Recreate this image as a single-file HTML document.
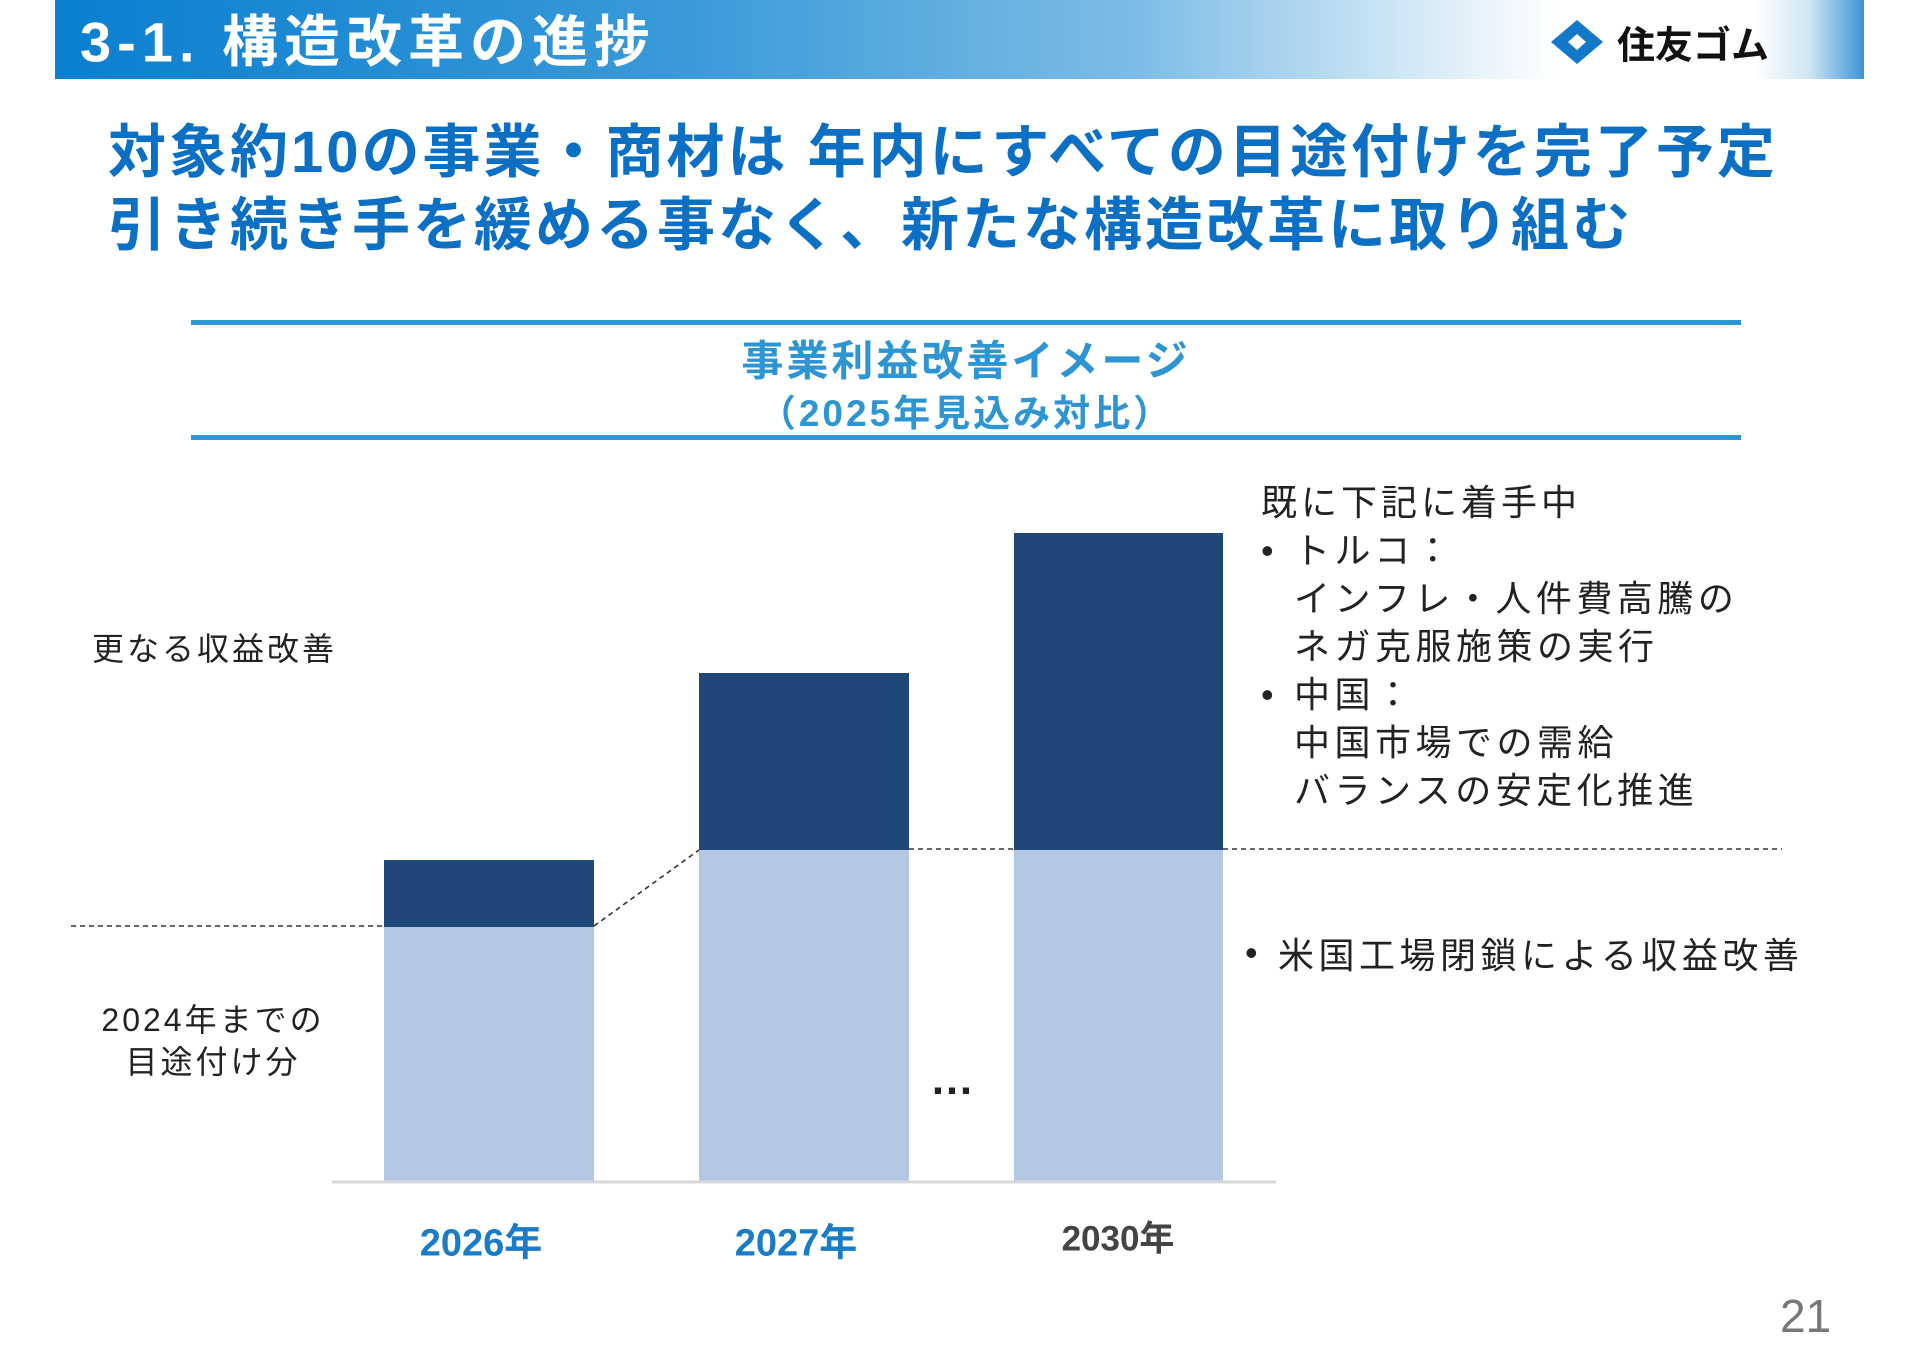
<!DOCTYPE html>
<html><head><meta charset="utf-8"><style>
body{margin:0;width:1920px;height:1358px;background:#fff;position:relative;overflow:hidden;font-family:"Liberation Sans","Noto Sans CJK JP",sans-serif;}
.a{position:absolute;white-space:nowrap;}
.t{transform:translateY(-50%);}
</style></head><body>
<div class="a" style="left:55px;top:0;width:1809px;height:79px;background:linear-gradient(90deg,#0a7fd0 0%,#3a9ad8 35%,#7dbde6 60%,#ffffff 83%,#ffffff 94%,#cfe5f5 97%,#3b95d6 100%);"></div>
<div class="a t" style="left:80px;top:38px;font-size:56px;font-weight:bold;color:#fff;letter-spacing:6px;">3-1. 構造改革の進捗</div>
<svg class="a" style="left:1549px;top:20px" width="56" height="44"><polygon points="28,0 54,22 28,44 2,22" fill="#1478c8"/><polygon points="28,14 37,22 28,30 19,22" fill="#fff"/></svg>
<div class="a t" style="left:1617px;top:42px;font-size:38px;font-weight:bold;color:#111;">住友ゴム</div>
<div class="a t" style="left:108px;top:147px;font-size:58px;font-weight:bold;color:#0b6fc3;letter-spacing:3px;">対象約10の事業・商材は 年内にすべての目途付けを完了予定</div>
<div class="a t" style="left:108px;top:220px;font-size:58px;font-weight:bold;color:#0b6fc3;letter-spacing:3px;">引き続き手を緩める事なく、新たな構造改革に取り組む</div>
<div class="a" style="left:191px;top:320px;width:1550px;height:5px;background:#2e95d3;"></div>
<div class="a" style="left:191px;top:435px;width:1550px;height:5px;background:#2e95d3;"></div>
<div class="a t" style="left:0;width:1932px;text-align:center;top:358px;font-size:42px;font-weight:bold;color:#2e95d3;letter-spacing:3px;">事業利益改善イメージ</div>
<div class="a t" style="left:0;width:1932px;text-align:center;top:410px;font-size:37px;font-weight:bold;color:#2e95d3;letter-spacing:3px;">（2025年見込み対比）</div>
<svg class="a" style="left:0;top:0" width="1920" height="1358">
<rect x="384" y="927" width="210" height="255" fill="#b4c8e3"/><rect x="384" y="860" width="210" height="67" fill="#1f4879"/>
<rect x="699" y="850" width="210" height="332" fill="#b4c8e3"/><rect x="699" y="673" width="210" height="177" fill="#1f4879"/>
<rect x="1014" y="850" width="209" height="332" fill="#b4c8e3"/><rect x="1014" y="533" width="209" height="317" fill="#1f4879"/>
<line x1="332" y1="1182" x2="1276" y2="1182" stroke="#d8d8d8" stroke-width="3"/>
<g stroke="#333" stroke-width="1.6" stroke-dasharray="5,4" fill="none">
<line x1="71" y1="926" x2="384" y2="926"/><line x1="594" y1="926" x2="699" y2="850"/>
<line x1="909" y1="849" x2="1014" y2="849"/><line x1="1223" y1="849" x2="1782" y2="849"/></g>
</svg>
<div class="a t" style="left:92px;top:647px;font-size:32px;color:#222;letter-spacing:3px;">更なる収益改善</div>
<div class="a t" style="left:63px;width:300px;text-align:center;top:1018px;font-size:32px;color:#222;letter-spacing:3px;">2024年までの</div>
<div class="a t" style="left:63px;width:300px;text-align:center;top:1060px;font-size:32px;color:#222;letter-spacing:3px;">目途付け分</div>
<div class="a t" style="left:381px;width:200px;text-align:center;top:1239px;font-size:38px;font-weight:bold;color:#1a7bc6;">2026年</div>
<div class="a t" style="left:696px;width:200px;text-align:center;top:1239px;font-size:38px;font-weight:bold;color:#1a7bc6;">2027年</div>
<div class="a t" style="left:1018px;width:200px;text-align:center;top:1236px;font-size:35px;font-weight:bold;color:#444;">2030年</div>
<div class="a t" style="left:930px;top:1080px;font-size:44px;font-weight:bold;color:#222;">…</div>
<div class="a" style="left:1261px;top:479px;font-size:36px;line-height:48px;color:#222;letter-spacing:4px;">既に下記に着手中</div>
<div class="a" style="left:1261px;top:527px;font-size:36px;line-height:48px;color:#222;">•</div>
<div class="a" style="left:1261px;top:671px;font-size:36px;line-height:48px;color:#222;">•</div>
<div class="a" style="left:1294px;top:527px;font-size:36px;line-height:48px;color:#222;letter-spacing:4.5px;">トルコ：<br>インフレ・人件費高騰の<br>ネガ克服施策の実行<br>中国：<br>中国市場での需給<br>バランスの安定化推進</div>
<div class="a t" style="left:1245px;top:953px;font-size:36px;color:#222;">•</div>
<div class="a t" style="left:1278px;top:953px;font-size:36px;color:#222;letter-spacing:4.5px;">米国工場閉鎖による収益改善</div>
<div class="a t" style="left:1780px;top:1316px;font-size:46px;color:#777;">21</div>
</body></html>
